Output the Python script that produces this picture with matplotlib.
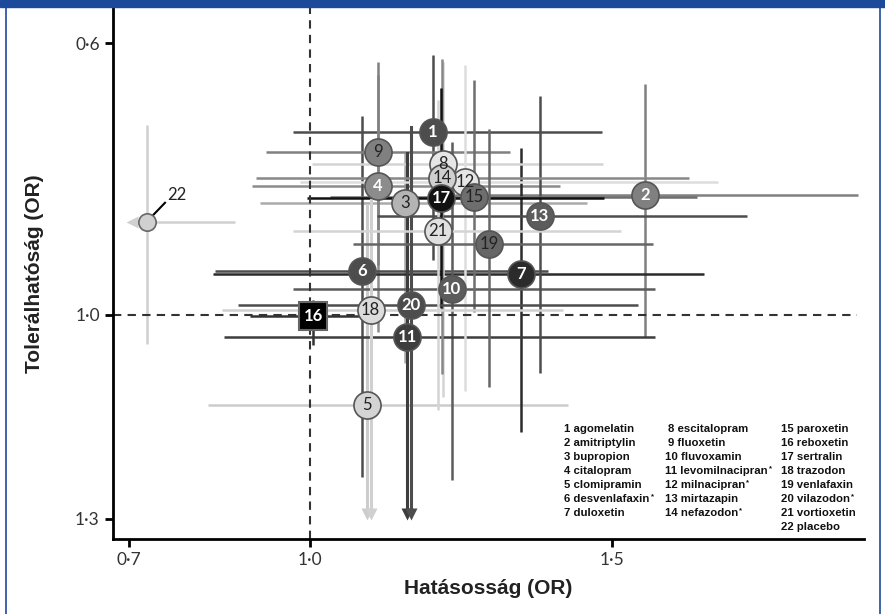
import numpy as np
import matplotlib.pyplot as plt
from matplotlib.patches import Rectangle
from matplotlib.lines import Line2D

# gyógyszerek sorszáma
labels = [str(i) for i in range(1, 23)]

# hatásosság (OR) és CI
eff    = [1.203, 1.554, 1.157, 1.112, 1.094, 1.086, 1.349, 1.220, 1.112, 1.234, 1.161,
          1.256, 1.380, 1.218, 1.271, 1.005, 1.217, 1.100, 1.296, 1.167, 1.212, 0.731]
eff_lo = [0.972, 1.240, 0.917, 0.904, 0.831, 0.843, 0.840, 1.003, 0.927, 0.972, 0.858,
          0.984, 1.111, 0.911, 1.033, 0.900, 0.995, 0.855, 1.071, 0.881, 0.972, 0.708]
eff_hi = [1.482, 1.906, 1.458, 1.413, 1.426, 1.393, 1.651, 1.485, 1.331, 1.570, 1.570,
          1.674, 1.722, 1.626, 1.640, 1.120, 1.486, 1.418, 1.567, 1.542, 1.514, 0.876]

# tolerálhatóság (OR) és CI, nan = kilóg a tengelyből (nyíl)
tol    = [0.731, 0.824, 0.835, 0.811, 1.132, 0.936, 0.940, 0.778, 0.760, 0.962, 1.033,
          0.805, 0.855, 0.799, 0.826, 1.002, 0.828, 0.993, 0.895, 0.986, 0.876, 0.864]
tol_lo = [0.618, 0.661, 0.762, 0.647, 0.838, 0.707, 0.754, 0.628, 0.628, 0.745, 0.762,
          0.632, 0.678, 0.624, 0.654, 0.978, 0.666, 0.831, 0.727, 0.723, 0.684, 0.721]
tol_hi = [0.919, 1.032, 1.071, 1.025, np.nan, 1.238, 1.172, 1.121, 0.926, 1.243, np.nan,
          1.112, 1.085, 1.087, 0.995, 1.044, 0.990, np.nan, 1.106, np.nan, 1.140, 1.043]

face = ['#4d4d4d', '#808080', '#b4b4b4', '#8c8c8c', '#d4d4d4', '#4d4d4d', '#2b2b2b',
        '#e6e6e6', '#808080', '#5c5c5c', '#3d3d3d', '#e6e6e6', '#5c5c5c', '#cfcfcf',
        '#6e6e6e', '#000000', '#111111', '#dcdcdc', '#666666', '#4d4d4d', '#e0e0e0', '#d0d0d0']
txt_col = ['white', 'white', '#222222', 'white', '#222222', 'white', 'white',
           '#222222', '#222222', 'white', 'white', '#222222', 'white', '#222222',
           '#222222', 'white', 'white', '#222222', '#222222', 'white', '#222222', '#222222']
line_col = ['#4d4d4d', '#808080', '#aaaaaa', '#8c8c8c', '#cccccc', '#4d4d4d', '#2b2b2b',
            '#d4d4d4', '#808080', '#5c5c5c', '#3d3d3d', '#dddddd', '#4d4d4d', '#888888',
            '#6e6e6e', '#333333', '#111111', '#d0d0d0', '#666666', '#4d4d4d', '#d4d4d4', '#d0d0d0']

# jelmagyarázat (a * jelű szerek külön jelölve)
legend_col1 = ['1 agomelatin', '2 amitriptylin', '3 bupropion', '4 citalopram',
               '5 clomipramin', '6 desvenlafaxin', '7 duloxetin']
legend_col2 = ['8 escitalopram', '9 fluoxetin', '10 fluvoxamin', '11 levomilnacipran',
               '12 milnacipran', '13 mirtazapin', '14 nefazodon']
legend_col3 = ['15 paroxetin', '16 reboxetin', '17 sertralin', '18 trazodon',
               '19 venlafaxin', '20 vilazodon', '21 vortioxetin', '22 placebo']
starred = ['6', '11', '12', '14', '20']

XMIN, XMAX = 0.674, 1.916
YTOP, YBOT = 0.5485, 1.329
ARROW_Y = 1.293

fig = plt.figure(figsize=(8.85, 6.14), dpi=100)
ax = fig.add_axes([113 / 885, 1 - 538.6 / 614, (864 - 113) / 885, (538.6 - 8) / 614])

# hibasávok
for i in range(len(labels)):
    c = line_col[i]
    lo_x = eff_lo[i]
    if i == 21:
        lo_x = 0.72
        ax.plot([0.706], [tol[i]], marker='<', ms=8, color=c, mec='none', zorder=1)
    ax.plot([lo_x, eff_hi[i]], [tol[i], tol[i]], color=c, lw=1.8, zorder=1, solid_capstyle='butt')
    hi_y = tol_hi[i]
    if np.isnan(hi_y):
        ax.plot([eff[i], eff[i]], [tol_lo[i], ARROW_Y - 0.005], color=c, lw=2.2, zorder=1)
        ax.plot([eff[i]], [ARROW_Y], marker='v', ms=9, color=c, mec='none', zorder=1)
    else:
        ax.plot([eff[i], eff[i]], [tol_lo[i], hi_y], color=c, lw=1.8, zorder=1, solid_capstyle='butt')

# referencia vonalak
ax.axvline(1.0, color='#333333', lw=1.5, ls=(0, (4, 3)), zorder=1.5)
ax.plot([XMIN, 1.905], [1.0, 1.0], color='#333333', lw=1.5, ls=(0, (4, 3)), zorder=1.5)

# markerek
for i in range(len(labels)):
    if labels[i] == '16':
        ax.plot(eff[i], tol[i], marker='s', ms=20, mfc='black', mec='#666666', mew=1.5, zorder=3)
    elif labels[i] == '22':
        ax.plot(eff[i], tol[i], marker='o', ms=12.5, mfc=face[i], mec='#666666', mew=1.2, zorder=3)
    else:
        ax.plot(eff[i], tol[i], marker='o', ms=19.5, mfc=face[i], mec='#555555', mew=1.2, zorder=3)
    if labels[i] == '22':
        continue
    bold = txt_col[i] == 'white'
    ax.text(eff[i], tol[i], labels[i], ha='center', va='center', fontsize=12,
            color=txt_col[i], fontweight='bold' if bold else 'normal',
            family='Lato', zorder=4)

# placebo felirat
ax.plot([0.7405, 0.760], [0.853, 0.835], color='black', lw=1.5, zorder=2)
ax.text(0.7636, 0.831, '22', fontsize=12, family='Lato', color='#222222', va='baseline', ha='left')

ax.set_xlim(XMIN, XMAX)
ax.set_ylim(YBOT, YTOP)
ax.set_xticks([0.7, 1.0, 1.5])
ax.set_xticklabels(['0·7', '1·0', '1·5'])
ax.set_yticks([0.6, 1.0, 1.3])
ax.set_yticklabels(['0·6', '1·0', '1·3'])
for s in ['top', 'right']:
    ax.spines[s].set_visible(False)
for s in ['left', 'bottom']:
    ax.spines[s].set_linewidth(2)
ax.tick_params(length=6, width=2, labelsize=12.5, labelcolor='#333333')
for lab in ax.get_xticklabels() + ax.get_yticklabels():
    lab.set_family('Lato')

ax.set_xlabel('Hatásosság (OR)', fontsize=15, fontweight='bold',
              family=['Liberation Sans Narrow', 'Liberation Sans'], color='#222222', labelpad=8)
ax.set_ylabel('Tolerálhatóság (OR)', fontsize=15, fontweight='bold',
              family=['Liberation Sans Narrow', 'Liberation Sans'], color='#222222', labelpad=22)

rows_y = [432, 446, 460, 474, 488, 502, 516, 530]
for col, x0 in [(legend_col1, 564), (legend_col2, 665), (legend_col3, 781)]:
    for j, t in enumerate(col):
        xx = x0 + (3 if (col is legend_col2 and j < 2) else 0)
        tx = fig.text(xx / 885, 1 - rows_y[j] / 614, t, fontsize=8.2, fontweight='bold',
                      family='Liberation Sans', va='baseline', ha='left', color='#111111')
        if t.split()[0] in starred:
            ax.annotate('*', xy=(1.0, 1.0), xycoords=tx, xytext=(0.8, 0.5),
                        textcoords='offset points', fontsize=5.5, fontweight='bold',
                        family='Liberation Sans', color='#111111', ha='left', va='top',
                        annotation_clip=False)

# kék keret
blue = '#1c4a9a'
fig.patches.append(Rectangle((0, 1 - 7 / 614), 1, 7 / 614, transform=fig.transFigure,
                             color=blue, zorder=0))
fig.add_artist(Line2D([5.5 / 885, 5.5 / 885], [0, 1], color=blue, lw=1.2))
fig.add_artist(Line2D([880 / 885, 880 / 885], [0, 1], color=blue, lw=1.2))

fig.savefig('out.png', dpi=100)
